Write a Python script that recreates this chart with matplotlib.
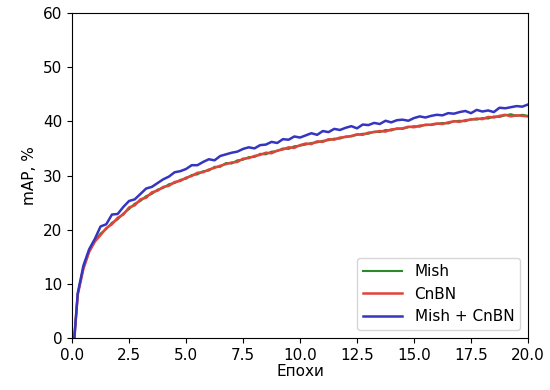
import numpy as np
import matplotlib
matplotlib.use("Agg")
import matplotlib.pyplot as plt

plt.rcParams['font.size'] = 11

# epochs at which mAP was recorded
epochs = [0.1, 0.25, 0.5, 0.75, 1.0, 1.25, 1.5, 1.75, 2.0, 2.25, 2.5, 2.75, 3.0, 3.25, 3.5, 3.75,
          4.0, 4.25, 4.5, 4.75, 5.0, 5.25, 5.5, 5.75, 6.0, 6.25, 6.5, 6.75, 7.0, 7.25, 7.5, 7.75,
          8.0, 8.25, 8.5, 8.75, 9.0, 9.25, 9.5, 9.75, 10.0, 10.25, 10.5, 10.75, 11.0, 11.25, 11.5, 11.75,
          12.0, 12.25, 12.5, 12.75, 13.0, 13.25, 13.5, 13.75, 14.0, 14.25, 14.5, 14.75, 15.0, 15.25,
          15.5, 15.75, 16.0, 16.25, 16.5, 16.75, 17.0, 17.25, 17.5, 17.75, 18.0, 18.25, 18.5, 18.75,
          19.0, 19.25, 19.5, 19.75, 20.0]

mish = [0, 8.2, 13.0, 16.1, 17.9, 19.3, 20.1, 21.3, 21.9, 23.0, 23.8, 24.8, 25.3, 26.2, 26.6, 27.4,
        27.7, 28.4, 28.6, 29.2, 29.4, 30.1, 30.2, 30.8, 30.9, 31.6, 31.6, 32.3, 32.2, 32.8, 32.9, 33.4,
        33.4, 34.0, 33.9, 34.4, 34.5, 35.0, 34.9, 35.4, 35.5, 35.7, 36.0, 36.1, 36.4, 36.5, 36.8, 36.8,
        37.2, 37.2, 37.5, 37.7, 37.7, 38.1, 38.0, 38.4, 38.3, 38.7, 38.6, 38.9, 39.1, 39.0, 39.4, 39.3,
        39.5, 39.7, 39.6, 40.0, 40.1, 40.0, 40.4, 40.3, 40.6, 40.5, 40.9, 40.8, 41.1, 41.3, 41.0, 41.2,
        41.0]

cnbn = [0, 8.0, 12.8, 15.9, 17.8, 19.0, 20.3, 21.0, 22.2, 22.8, 24.1, 24.5, 25.6, 25.9, 26.9, 27.2,
        27.9, 28.1, 28.8, 29.0, 29.6, 29.9, 30.5, 30.6, 31.1, 31.4, 31.8, 32.1, 32.4, 32.5, 33.1, 33.2,
        33.6, 33.8, 34.2, 34.1, 34.6, 34.8, 35.2, 35.1, 35.6, 35.9, 35.8, 36.3, 36.2, 36.7, 36.6, 37.0,
        37.1, 37.3, 37.6, 37.5, 37.9, 38.0, 38.2, 38.1, 38.5, 38.6, 38.7, 39.0, 38.9, 39.2, 39.3, 39.4,
        39.6, 39.5, 39.8, 40.0, 39.9, 40.2, 40.3, 40.5, 40.4, 40.8, 40.7, 41.0, 41.2, 40.9, 41.1, 41.0,
        40.9]

mish_cnbn = [0, 8.3, 13.4, 16.4, 18.3, 20.6, 21.0, 22.8, 22.9, 24.2, 25.3, 25.6, 26.6, 27.6, 27.9, 28.6,
             29.3, 29.8, 30.6, 30.8, 31.2, 31.9, 31.9, 32.5, 33.0, 32.8, 33.6, 33.9, 34.2, 34.4, 34.9, 35.2,
             35.0, 35.6, 35.7, 36.2, 36.0, 36.7, 36.6, 37.2, 37.0, 37.4, 37.8, 37.5, 38.2, 38.0, 38.6, 38.4,
             38.8, 39.1, 38.7, 39.4, 39.3, 39.7, 39.5, 40.1, 39.8, 40.2, 40.3, 40.1, 40.6, 40.9, 40.7, 41.0,
             41.2, 41.1, 41.5, 41.4, 41.7, 41.9, 41.5, 42.1, 41.8, 42.0, 41.7, 42.5, 42.4, 42.6, 42.8, 42.7,
             43.1]

fig = plt.figure(figsize=(5.5, 3.9), dpi=100)
ax = fig.add_axes([0.131, 0.133, 0.829, 0.834])

ax.plot(epochs, mish, label='Mish', color='#2a8a2a', linewidth=1.5)
ax.plot(epochs, cnbn, label='CnBN', color='#e0443c', linewidth=1.8)
ax.plot(epochs, mish_cnbn, label='Mish + CnBN', color='#3535c0', linewidth=1.8)

ax.set_xlim(0, 20)
ax.set_ylim(0, 60)
ax.set_xticks([0, 2.5, 5, 7.5, 10, 12.5, 15, 17.5, 20])
ax.set_xlabel('Епохи', labelpad=1)
ax.set_ylabel('mAP, %')
ax.legend(loc='lower right', handlelength=2.6)

fig.savefig('out.png', dpi=100)
